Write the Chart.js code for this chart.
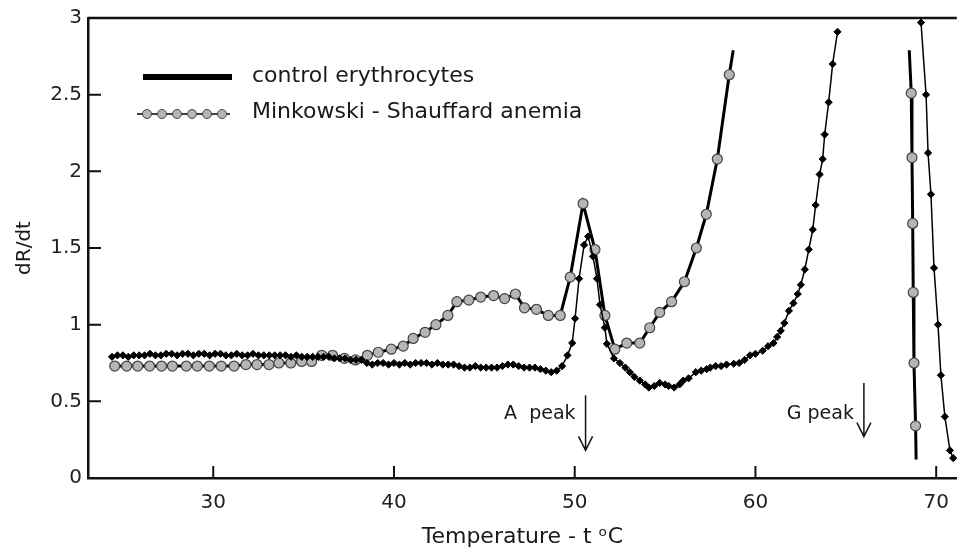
<!DOCTYPE html>
<html>
<head>
<meta charset="utf-8">
<script src="https://cdn.jsdelivr.net/npm/chart.js@4/dist/chart.umd.min.js"></script>
<style>
  html, body { margin: 0; padding: 0; background: #fff; }
  #wrap { width: 963px; height: 549px; position: relative; }
</style>
</head>
<body>
<div id="wrap"><canvas id="chart"></canvas></div>
<script>
// control erythrocytes: temperature (°C) and dR/dt
const ctrlT = [
  24.4, 24.7, 25.0, 25.3, 25.6, 25.9, 26.2, 26.5, 26.8, 27.1,
  27.4, 27.7, 28.0, 28.3, 28.6, 28.9, 29.2, 29.5, 29.8, 30.1,
  30.4, 30.7, 31.0, 31.3, 31.6, 31.9, 32.2, 32.5, 32.8, 33.1,
  33.4, 33.7, 34.0, 34.3, 34.6, 34.9, 35.2, 35.5, 35.8, 36.1,
  36.4, 36.7, 37.0, 37.3, 37.6, 37.9, 38.2, 38.5, 38.8, 39.1,
  39.4, 39.7, 40.0, 40.3, 40.6, 40.9, 41.2, 41.5, 41.8, 42.1,
  42.4, 42.7, 43.0, 43.3, 43.6, 43.9, 44.2, 44.5, 44.8, 45.1,
  45.4, 45.7, 46.0, 46.3, 46.6, 46.9, 47.2, 47.5, 47.8, 48.1,
  48.4, 48.7, 49.0, 49.3, 49.6, 49.86, 50.02, 50.24, 50.52, 50.74,
  51.01, 51.23, 51.40, 51.67, 51.78, 52.17, 52.5, 52.8, 53.05, 53.3,
  53.6, 53.9, 54.1, 54.4, 54.7, 55.0, 55.2, 55.5, 55.8, 56.0,
  56.3, 56.7, 57.0, 57.3, 57.5, 57.8, 58.1, 58.4, 58.8, 59.1,
  59.4, 59.7, 60.0, 60.4, 60.7, 61.0, 61.2, 61.4, 61.6, 61.85,
  62.1, 62.34, 62.51, 62.73, 62.95, 63.17, 63.33, 63.55, 63.72, 63.83,
  64.05, 64.27, 64.54, 66.5, 69.16, 69.44, 69.55, 69.71, 69.88, 70.10,
  70.26, 70.48, 70.76, 70.94
];
const ctrlR = [
  0.79, 0.80, 0.80, 0.79, 0.80, 0.80, 0.80, 0.81, 0.80, 0.80,
  0.81, 0.81, 0.80, 0.81, 0.81, 0.80, 0.81, 0.81, 0.80, 0.81,
  0.81, 0.80, 0.80, 0.81, 0.80, 0.80, 0.81, 0.80, 0.80, 0.80,
  0.80, 0.80, 0.80, 0.79, 0.80, 0.79, 0.79, 0.79, 0.79, 0.79,
  0.79, 0.78, 0.78, 0.78, 0.77, 0.77, 0.77, 0.75, 0.74, 0.75,
  0.75, 0.74, 0.75, 0.74, 0.75, 0.74, 0.75, 0.75, 0.75, 0.74,
  0.75, 0.74, 0.74, 0.74, 0.73, 0.72, 0.72, 0.73, 0.72, 0.72,
  0.72, 0.72, 0.73, 0.74, 0.74, 0.73, 0.72, 0.72, 0.72, 0.71,
  0.70, 0.69, 0.70, 0.73, 0.80, 0.88, 1.04, 1.30, 1.52, 1.575,
  1.445, 1.30, 1.13, 0.98, 0.875, 0.78, 0.75, 0.72, 0.69, 0.66,
  0.635, 0.61, 0.59, 0.60, 0.62, 0.61, 0.60, 0.59, 0.61, 0.635,
  0.65, 0.69, 0.70, 0.71, 0.72, 0.73, 0.73, 0.74, 0.745, 0.75,
  0.77, 0.80, 0.81, 0.83, 0.86, 0.88, 0.92, 0.96, 1.01, 1.09,
  1.14, 1.20, 1.26, 1.36, 1.49, 1.62, 1.78, 1.98, 2.08, 2.24,
  2.45, 2.70, 2.91, null, 2.97, 2.50, 2.12, 1.85, 1.37, 1.00,
  0.67, 0.40, 0.18, 0.13
];

// Minkowski - Shauffard anemia
const anemT = [
  24.55, 25.21, 25.82, 26.48, 27.14, 27.74, 28.51, 29.12, 29.78, 30.44,
  31.15, 31.81, 32.42, 33.08, 33.63, 34.29, 34.89, 35.44, 36.00, 36.60,
  37.26, 37.87, 38.53, 39.13, 39.85, 40.51, 41.06, 41.72, 42.32, 42.98,
  43.48, 44.14, 44.80, 45.51, 46.12, 46.72, 47.22, 47.88, 48.54, 49.20,
  49.75, 50.46, 51.12, 51.67, 52.22, 52.88, 53.60, 54.15, 54.70, 55.36,
  56.07, 56.73, 57.28, 57.89, 58.55, 58.77, 63.5, 68.51, 68.62, 68.66,
  68.70, 68.73, 68.77, 68.86, 68.89
];
const anemR = [
  0.73, 0.73, 0.73, 0.73, 0.73, 0.73, 0.73, 0.73, 0.73, 0.73,
  0.73, 0.74, 0.74, 0.74, 0.75, 0.75, 0.76, 0.76, 0.80, 0.80,
  0.78, 0.77, 0.80, 0.82, 0.84, 0.86, 0.91, 0.95, 1.00, 1.06,
  1.15, 1.16, 1.18, 1.19, 1.17, 1.20, 1.11, 1.10, 1.06, 1.06,
  1.31, 1.79, 1.49, 1.06, 0.84, 0.88, 0.88, 0.98, 1.08, 1.15,
  1.28, 1.50, 1.72, 2.08, 2.63, 2.79, null, 2.79, 2.51, 2.09,
  1.66, 1.21, 0.75, 0.34, 0.12
];

const seriesNames = ['control erythrocytes', 'Minkowski - Shauffard anemia'];
const xTicks = [30, 40, 50, 60, 70];
const yTicks = [0, 0.5, 1, 1.5, 2, 2.5, 3];

// peak markers: temperature of the arrow and its label
const peakT = [50.6, 66.0];
const peakLabels = ['A  peak', 'G peak'];

const FONT = 'DejaVu Sans';
const toPoints = (xs, ys) => xs.map((x, i) => ({ x: x, y: ys[i] }));

// hide markers at the open ends of a broken line
function endHidden(ctx) {
  const d = ctx.dataset.data, i = ctx.dataIndex;
  if (i === d.length - 1) return 0;
  if ((d[i - 1] && d[i - 1].y === null) || (d[i + 1] && d[i + 1].y === null)) return 0;
  return 5;
}

const frameAndTicks = {
  id: 'frameAndTicks',
  afterDraw(chart) {
    const { ctx, chartArea: a, scales: { x, y } } = chart;
    ctx.save();
    ctx.strokeStyle = '#111';
    ctx.lineWidth = 2.5;
    ctx.beginPath();
    ctx.moveTo(a.left, a.top);
    ctx.lineTo(a.right, a.top);
    ctx.stroke();
    ctx.lineWidth = 2;
    ctx.beginPath();
    x.ticks.forEach(t => {
      const px = x.getPixelForValue(t.value);
      ctx.moveTo(px, a.bottom);
      ctx.lineTo(px, a.bottom - 12);
    });
    y.ticks.forEach(t => {
      const py = y.getPixelForValue(t.value);
      ctx.moveTo(a.left, py);
      ctx.lineTo(a.left + 13, py);
    });
    ctx.stroke();
    ctx.restore();
  }
};

const peakArrows = {
  id: 'peakArrows',
  afterDraw(chart) {
    const { ctx, scales: { x, y } } = chart;
    const tops = [0.54, 0.62], bottoms = [0.18, 0.27];
    ctx.save();
    ctx.strokeStyle = '#111';
    ctx.fillStyle = '#1a1a1a';
    ctx.lineWidth = 1.5;
    ctx.font = '19px "' + FONT + '"';
    ctx.textAlign = 'right';
    ctx.textBaseline = 'middle';
    peakT.forEach((t, i) => {
      const px = x.getPixelForValue(t);
      const y0 = y.getPixelForValue(tops[i]);
      const y1 = y.getPixelForValue(bottoms[i]);
      ctx.beginPath();
      ctx.moveTo(px, y0);
      ctx.lineTo(px, y1);
      ctx.moveTo(px - 7, y1 - 14);
      ctx.lineTo(px, y1);
      ctx.lineTo(px + 7, y1 - 14);
      ctx.stroke();
      ctx.fillText(peakLabels[i], px - 10, y.getPixelForValue(0.42));
    });
    ctx.restore();
  }
};

const sampleLegend = {
  id: 'sampleLegend',
  afterDraw(chart) {
    const { ctx, chartArea: a } = chart;
    const ds = chart.data.datasets;
    ctx.save();
    // control sample: dense black band
    let yy = a.top + 59;
    ctx.strokeStyle = '#000';
    ctx.lineWidth = 6;
    ctx.beginPath();
    ctx.moveTo(a.left + 55, yy);
    ctx.lineTo(a.left + 144, yy);
    ctx.stroke();
    // anemia sample: thin line with grey circles
    yy = a.top + 96;
    ctx.lineWidth = 1.5;
    ctx.beginPath();
    ctx.moveTo(a.left + 49, yy);
    ctx.lineTo(a.left + 142, yy);
    ctx.stroke();
    ctx.fillStyle = ds[1].pointBackgroundColor;
    ctx.strokeStyle = ds[1].pointBorderColor;
    ctx.lineWidth = 1;
    for (let k = 0; k < 6; k++) {
      Chart.helpers.drawPoint(ctx, { pointStyle: 'circle', radius: 4.5, borderWidth: 1, rotation: 0 },
        a.left + 59 + k * 15, yy);
    }
    ctx.fillStyle = '#1a1a1a';
    ctx.font = '22px "' + FONT + '"';
    ctx.textAlign = 'left';
    ctx.textBaseline = 'middle';
    ctx.fillText(seriesNames[0], a.left + 164, a.top + 58);
    ctx.fillText(seriesNames[1], a.left + 164, a.top + 94);
    ctx.restore();
  }
};

new Chart(document.getElementById('chart'), {
  type: 'line',
  data: {
    datasets: [
      {
        label: seriesNames[0],
        data: toPoints(ctrlT, ctrlR),
        borderColor: '#000',
        borderWidth: 1.5,
        pointStyle: 'rectRot',
        pointRadius: 3.6,
        pointBackgroundColor: '#000',
        pointBorderColor: '#000',
        pointBorderWidth: 1,
        spanGaps: false,
        tension: 0
      },
      {
        label: seriesNames[1],
        data: toPoints(anemT, anemR),
        borderColor: '#000',
        borderWidth: 3,
        pointStyle: 'circle',
        pointRadius: endHidden,
        pointBackgroundColor: '#b5b5b5',
        pointBorderColor: '#444',
        pointBorderWidth: 1.2,
        spanGaps: false,
        tension: 0
      }
    ]
  },
  options: {
    responsive: true,
    maintainAspectRatio: false,
    animation: false,
    events: [],
    layout: { padding: { top: 15, right: 0, bottom: 0, left: 0 } },
    plugins: { legend: { display: false }, tooltip: { enabled: false } },
    scales: {
      x: {
        type: 'linear',
        min: 23.07,
        max: 71.14,
        afterBuildTicks: s => { s.ticks = xTicks.map(v => ({ value: v })); },
        afterFit: s => { s.height = 71; },
        grid: { display: false, drawTicks: false },
        border: { display: true, color: '#111', width: 2.5 },
        ticks: { color: '#222', font: { family: FONT, size: 20 }, padding: 13, maxRotation: 0,
          callback: v => String(v) },
        title: {
          display: true,
          text: 'Temperature - t ᵒC',
          color: '#1a1a1a',
          font: { family: FONT, size: 22, lineHeight: 1 },
          padding: { top: 0, bottom: 1 }
        }
      },
      y: {
        type: 'linear',
        min: 0,
        max: 3,
        afterBuildTicks: s => { s.ticks = yTicks.map(v => ({ value: v })); },
        afterFit: s => { s.width = 88; },
        grid: { display: false, drawTicks: false },
        border: { display: true, color: '#111', width: 2.5 },
        ticks: { color: '#222', font: { family: FONT, size: 20 }, padding: 6,
          callback: v => String(v) },
        title: {
          display: true,
          text: 'dR/dt',
          color: '#1a1a1a',
          font: { family: FONT, size: 20, lineHeight: 1 },
          padding: { top: 15, bottom: 0 }
        }
      }
    }
  },
  plugins: [frameAndTicks, peakArrows, sampleLegend]
});
</script>
</body>
</html>
